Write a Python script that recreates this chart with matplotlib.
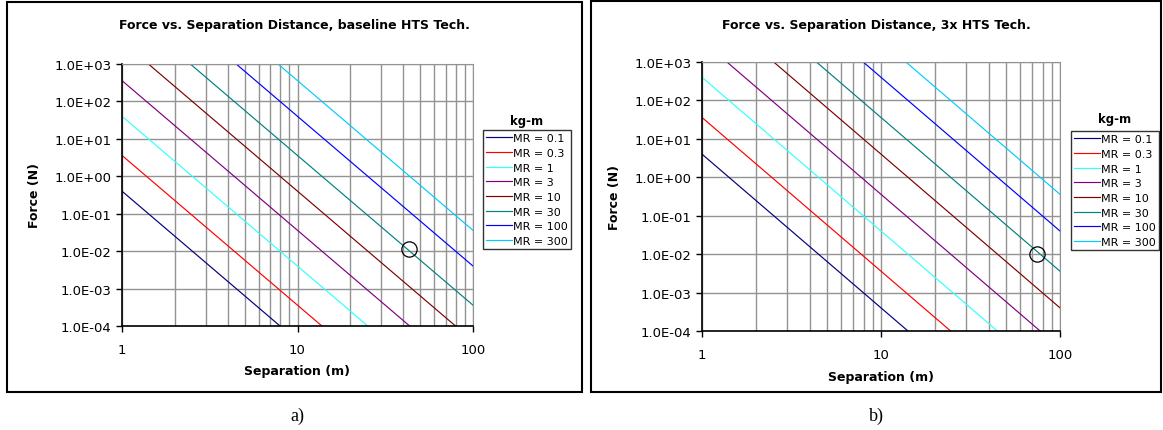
import matplotlib
matplotlib.use("Agg")
import matplotlib.pyplot as plt
from matplotlib.patches import Rectangle
from matplotlib.ticker import FixedLocator, FuncFormatter, NullFormatter
import numpy as np

# values (force in N at separation 1 m and 100 m)
separation = [1, 100]
mr_labels = ["MR = 0.1", "MR = 0.3", "MR = 1", "MR = 3",
             "MR = 10", "MR = 30", "MR = 100", "MR = 300"]
force_base = [[0.4, 4e-9], [3.6, 3.6e-8], [40, 4e-7], [360, 3.6e-6],
              [4e3, 4e-5], [3.6e4, 3.6e-4], [4e5, 4e-3], [3.6e6, 3.6e-2]]
force_3x = [[4, 4e-8], [36, 3.6e-7], [400, 4e-6], [3.6e3, 3.6e-5],
            [4e4, 4e-4], [3.6e5, 3.6e-3], [4e6, 4e-2], [3.6e7, 3.6e-1]]
circle_base = (43, 0.0112)
circle_3x = (74, 0.0102)

colors = ["#000080", "#FF0000", "#33FFFF", "#800080",
          "#800000", "#008080", "#0000FF", "#00CCFF"]

W, H = 1163, 431
fig = plt.figure(figsize=(W / 100, H / 100), dpi=100)
plt.rcParams['font.family'] = ['DejaVu Sans']


def px_axes(x0, x1, y0, y1):
    return fig.add_axes([x0 / W, 1 - y1 / H, (x1 - x0) / W, (y1 - y0) / H])


def sci(v, pos):
    e = int(round(np.log10(v)))
    return "1.0E%s%02d" % ("+" if e >= 0 else "-", abs(e))


def draw(ax, forces, circ, title, title_x, leg_x, leg_y, kg_y, xlab_y):
    for f, c, lab in zip(forces, colors, mr_labels):
        ax.plot(separation, f, color=c, lw=0.85, label=lab)
    ax.plot([circ[0]], [circ[1]], 'o', ms=11, mfc='none', mec='black', mew=0.9)
    ax.set_xscale('log')
    ax.set_yscale('log')
    ax.set_xlim(1, 100)
    ax.set_ylim(1e-4, 1e3)
    ax.yaxis.set_major_locator(FixedLocator([10.0 ** k for k in range(-4, 4)]))
    ax.yaxis.set_major_formatter(FuncFormatter(sci))
    ax.yaxis.set_minor_formatter(NullFormatter())
    ax.xaxis.set_major_locator(FixedLocator([1, 10, 100]))
    ax.xaxis.set_major_formatter(FuncFormatter(lambda v, p: "%d" % v))
    ax.xaxis.set_minor_locator(FixedLocator(
        [m * d for d in (1, 10) for m in range(2, 10)]))
    ax.xaxis.set_minor_formatter(NullFormatter())
    ax.tick_params(axis='both', which='major', direction='out', length=4,
                   width=1, labelsize=9.5, colors='black')
    ax.tick_params(axis='x', which='minor', length=0)
    ax.tick_params(axis='y', which='minor', length=0)
    ax.tick_params(axis='x', which='major', pad=8)
    ax.grid(True, which='major', color='#939393', lw=1.0)
    ax.grid(True, which='minor', axis='x', color='#939393', lw=1.0)
    ax.set_axisbelow(True)
    for s in ('top', 'right'):
        ax.spines[s].set_color('#939393')
    for s in ('left', 'bottom'):
        ax.spines[s].set_color('black')
        ax.spines[s].set_linewidth(1.2)
    ax.set_ylabel("Force (N)", fontsize=9, fontweight='bold', labelpad=10)
    fig.text(title_x / W, 1 - 25 / H, title, ha='center', va='center',
             fontsize=9, fontweight='bold')
    fig.text((ax.get_position().x0 + ax.get_position().x1) / 2, 1 - xlab_y / H,
             "Separation (m)", ha='center', va='center', fontsize=9,
             fontweight='bold')
    fig.text((leg_x + 44) / W, 1 - kg_y / H, "kg-m", ha='center',
             va='center', fontsize=8.5, fontweight='bold')
    leg = ax.legend(loc='upper left', bbox_to_anchor=(leg_x / W, 1 - leg_y / H),
                    bbox_transform=fig.transFigure, fontsize=8, frameon=True,
                    fancybox=False, edgecolor='black', borderpad=0.3,
                    handlelength=2.3, handletextpad=0.1, labelspacing=0.42,
                    borderaxespad=0)
    leg.get_frame().set_linewidth(1.0)


ax1 = px_axes(122, 473, 65, 327)
draw(ax1, force_base, circle_base,
     "Force vs. Separation Distance, baseline HTS Tech.", 294,
     483, 131, 121, 372)

ax2 = px_axes(702, 1060, 63, 332)
draw(ax2, force_3x, circle_3x,
     "Force vs. Separation Distance, 3x HTS Tech.", 876,
     1071, 132, 120, 378)

# outer chart frames
fig.patches.append(Rectangle((7 / W, 1 - 393 / H), 575 / W, 390 / H,
                             transform=fig.transFigure, fill=False,
                             edgecolor='black', lw=1.5))
fig.patches.append(Rectangle((591 / W, 1 - 393 / H), 570 / W, 391 / H,
                             transform=fig.transFigure, fill=False,
                             edgecolor='black', lw=1.5))

fig.text(297 / W, 1 - 416 / H, "a)", ha='center', va='center', fontsize=13,
         family=['Liberation Serif'])
fig.text(876 / W, 1 - 416 / H, "b)", ha='center', va='center', fontsize=13,
         family=['Liberation Serif'])

fig.savefig("out.png", dpi=100)
